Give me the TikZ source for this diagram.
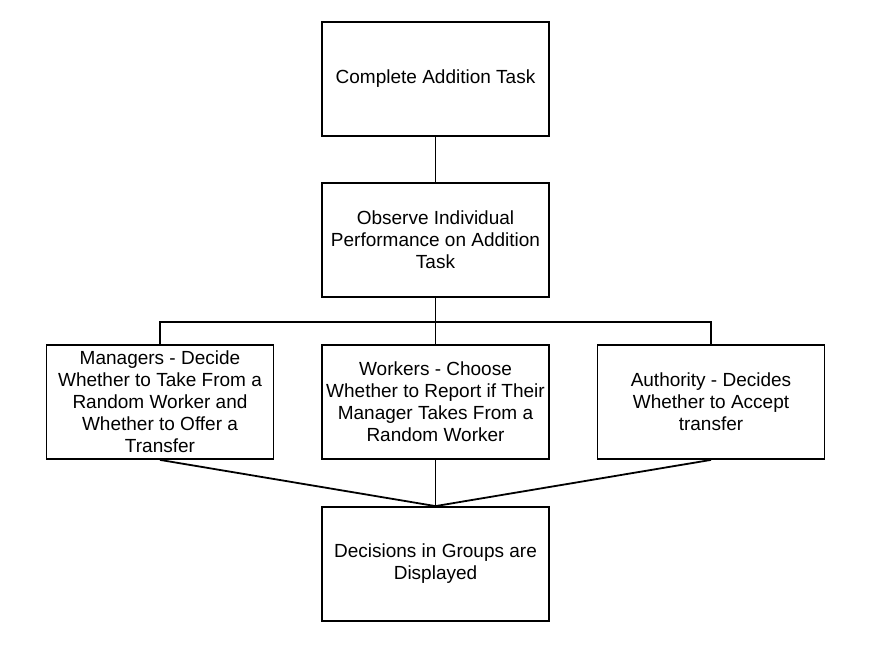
\documentclass[tikz,border=0pt]{standalone}
\usepackage{fontspec}
\setmainfont{Liberation Sans}
\begin{document}
\begin{tikzpicture}[x=1pt,y=-1pt,
  stagebox/.style={draw=black,line width=1.8pt,minimum width=227pt,minimum height=114pt,
    align=center,inner sep=0pt,font=\fontsize{19}{22}\selectfont},
  link/.style={draw=black,line width=1.8pt}]
\useasboundingbox (0,0) rectangle (879,651);
\node[stagebox] (task) at (435.5,79) {Complete Addition Task};
\node[stagebox] (obs) at (435.5,240) {Observe Individual\\Performance on Addition\\Task};
\node[stagebox] (mgr) at (160,402) {Managers - Decide\\Whether to Take From a\\Random Worker and\\Whether to Offer a\\Transfer};
\node[stagebox] (wrk) at (435.5,402) {Workers - Choose\\Whether to Report if Their\\Manager Takes From a\\Random Worker};
\node[stagebox] (auth) at (711,402) {Authority - Decides\\Whether to Accept\\transfer};
\node[stagebox] (disp) at (435.5,564) {Decisions in Groups are\\Displayed};
\coordinate (bus) at (435.5,322);
\draw[link] (task.south) -- (obs.north);
\draw[link] (obs.south) -- (bus);
\draw[link] (mgr.north) |- (bus) -| (auth.north);
\draw[link] (bus) -- (wrk.north);
\draw[link] (mgr.south) -- (disp.north);
\draw[link] (wrk.south) -- (disp.north);
\draw[link] (auth.south) -- (disp.north);
\end{tikzpicture}
\end{document}
